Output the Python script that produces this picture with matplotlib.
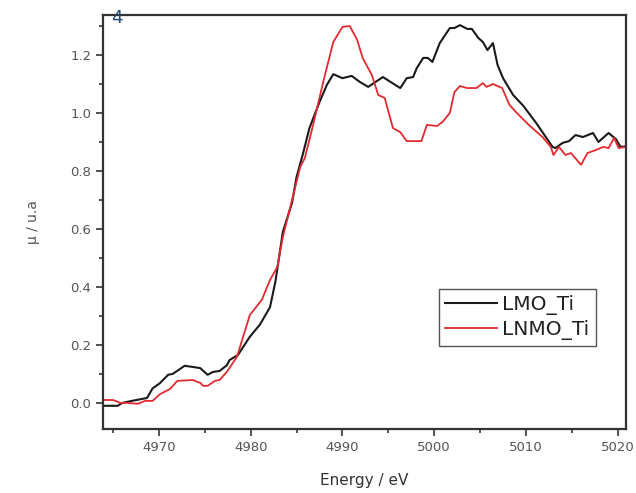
import numpy as np
import matplotlib.pyplot as plt
from matplotlib.ticker import MultipleLocator

# LMO_Ti (black)
e_lmo = [4963.9, 4965.5, 4966.0, 4967.2, 4968.7, 4969.3, 4970.1, 4971.0, 4971.5,
         4972.8, 4973.7, 4974.5, 4975.3, 4975.9, 4976.6, 4977.4, 4977.7, 4978.6,
         4979.9, 4981.0, 4982.1, 4982.7, 4983.5, 4984.5, 4985.0, 4985.7, 4986.4,
         4987.5, 4988.3, 4989.0, 4990.0, 4991.0, 4991.9, 4992.8, 4994.4, 4996.3,
         4997.0, 4997.7, 4998.1, 4998.8, 4999.3, 4999.8, 5000.6, 5001.7, 5002.2,
         5002.8, 5003.6, 5004.1, 5004.8, 5005.3, 5005.8, 5006.4, 5006.9, 5007.5,
         5008.6, 5009.7, 5011.1, 5012.9, 5013.2, 5014.0, 5014.7, 5015.4, 5016.2,
         5017.3, 5017.9, 5019.0, 5019.8, 5020.3, 5020.9]
mu_lmo = [-0.01, -0.01, 0.0, 0.008, 0.017, 0.05, 0.068, 0.097, 0.10,
          0.128, 0.124, 0.12, 0.097, 0.107, 0.11, 0.13, 0.148, 0.165,
          0.228, 0.27, 0.33, 0.42, 0.59, 0.69, 0.78, 0.86, 0.948,
          1.038, 1.097, 1.134, 1.12, 1.128, 1.107, 1.09, 1.124, 1.086,
          1.12, 1.124, 1.155, 1.19, 1.19, 1.176, 1.241, 1.293, 1.293,
          1.303, 1.29, 1.29, 1.259, 1.245, 1.217, 1.241, 1.166, 1.12,
          1.062, 1.025, 0.966, 0.883, 0.879, 0.897, 0.903, 0.924, 0.917,
          0.931, 0.90, 0.931, 0.91, 0.883, 0.885]

# LNMO_Ti (red)
e_lnmo = [4963.9, 4965.0, 4965.8, 4966.5, 4967.7, 4968.5, 4969.3, 4970.1, 4971.2,
          4972.0, 4973.7, 4974.5, 4974.8, 4975.3, 4976.1, 4976.6, 4977.4, 4978.5,
          4979.9, 4981.2, 4982.1, 4982.9, 4983.5, 4984.5, 4985.4, 4985.9, 4986.8,
          4987.9, 4989.0, 4990.0, 4990.8, 4991.6, 4992.2, 4993.2, 4993.9, 4994.6,
          4995.5, 4996.3, 4997.0, 4998.6, 4999.2, 5000.3, 5000.9, 5001.7, 5002.2,
          5002.8, 5003.6, 5004.6, 5005.3, 5005.7, 5006.4, 5007.4, 5008.2, 5009.0,
          5010.3, 5011.8, 5012.7, 5013.0, 5013.6, 5014.3, 5014.9, 5016.0, 5016.7,
          5017.6, 5018.4, 5019.0, 5019.6, 5020.1, 5020.9]
mu_lnmo = [0.01, 0.01, 0.0, 0.0, -0.003, 0.007, 0.007, 0.03, 0.048,
           0.076, 0.079, 0.069, 0.059, 0.059, 0.076, 0.079, 0.107, 0.159,
           0.303, 0.355, 0.424, 0.469, 0.572, 0.70, 0.814, 0.845, 0.959,
           1.107, 1.245, 1.297, 1.30, 1.252, 1.19, 1.131, 1.062, 1.052,
           0.948, 0.934, 0.903, 0.903, 0.959, 0.955, 0.969, 1.0, 1.072,
           1.093, 1.086, 1.086, 1.103, 1.09, 1.10, 1.086, 1.028, 1.0,
           0.959, 0.917, 0.883, 0.855, 0.883, 0.855, 0.862, 0.821, 0.862,
           0.872, 0.883, 0.879, 0.914, 0.879, 0.883]

fig = plt.figure(figsize=(6.36, 4.93), dpi=100)
ax = fig.add_axes([103/636, 1 - 429/493, (626-103)/636, (429-15)/493])

ax.plot(e_lmo, mu_lmo, color='#1a1a1a', lw=1.5, label='LMO_Ti')
ax.plot(e_lnmo, mu_lnmo, color='#e32a30', lw=1.3, label='LNMO_Ti')

ax.set_xlim(4963.9, 5020.9)
ax.set_ylim(-0.09, 1.338)
ax.xaxis.set_major_locator(MultipleLocator(10))
ax.xaxis.set_minor_locator(MultipleLocator(5))
ax.yaxis.set_major_locator(MultipleLocator(0.2))
ax.yaxis.set_minor_locator(MultipleLocator(0.1))
ax.tick_params(which='both', direction='out', colors='#333333', labelcolor='#555555',
               labelsize=9.5, width=1.2)
ax.tick_params(which='major', length=5)
ax.tick_params(which='minor', length=3)
ax.tick_params(top=False, right=False)
ax.yaxis.set_major_formatter(plt.FuncFormatter(lambda v, p: f'{v:.1f}'))
for s in ax.spines.values():
    s.set_linewidth(1.6)
    s.set_color('#333333')

ax.set_xlabel('Energy / eV', fontsize=11, color='#333333', labelpad=14)
ax.set_ylabel('\u03bc / u.a', fontsize=10, color='#555555', labelpad=22)

leg = ax.legend(loc='upper left', bbox_to_anchor=((439-103)/523, (429-289)/414),
                fontsize=14.5, fancybox=False, edgecolor='#555555', framealpha=1,
                handlelength=2.6, handletextpad=0.25, borderpad=0.3, labelspacing=0.25,
                borderaxespad=0)
leg.get_frame().set_linewidth(1.0)
for t in leg.get_texts():
    t.set_color('#222222')

fig.text(111/636, 1 - 18/493, '4', fontsize=13, color='#1f4e79', va='center')

fig.savefig('out.png', dpi=100)
